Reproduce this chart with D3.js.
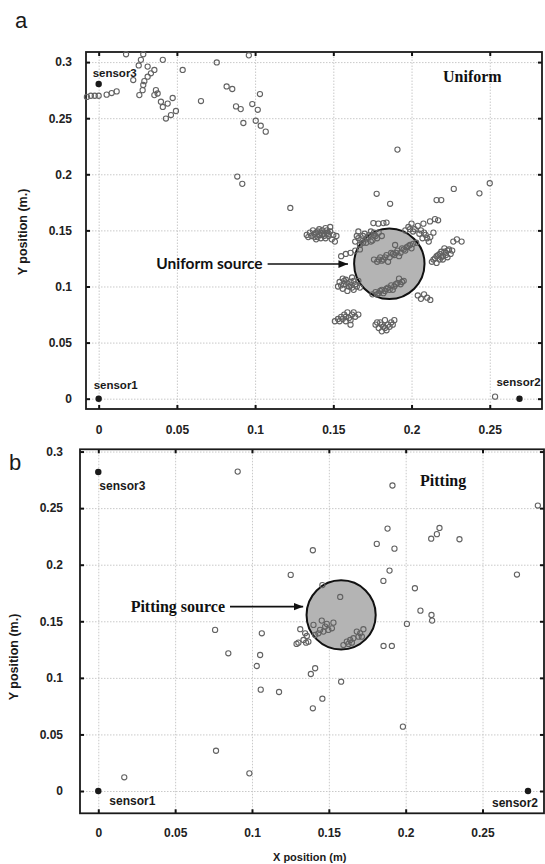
<!DOCTYPE html>
<html>
<head>
<meta charset="utf-8">
<script src="https://d3js.org/d3.v7.min.js"></script>
<style>
  body { margin: 0; background: #fff; }
  svg { display: block; }
</style>
</head>
<body>
<svg id="drawing_region"></svg>
<script>
// ---- data ----
const xTicks = [0, 0.05, 0.1, 0.15, 0.2, 0.25];
const xTickLabels = ['0', '0.05', '0.1', '0.15', '0.2', '0.25'];
const yTicks = [0, 0.05, 0.1, 0.15, 0.2, 0.25, 0.3];
const yTickLabels = ['0', '0.05', '0.1', '0.15', '0.2', '0.25', '0.3'];

const sensorNames = ['sensor1', 'sensor2', 'sensor3'];
const sensorPosA = [[0, 0], [0.269, 0], [0, 0.2805]];
const sensorPosB = [[0, 0], [0.2796, 0], [0, 0.282]];

// source centre (x, y) and radius (m)
const uniformSource = [0.1858, 0.1202, 0.0225];
const pittingSource = [0.158, 0.1556, 0.0225];

// arrow: x start, x end, y
const uniformArrow = [0.108, 0.1594, 0.120];
const pittingArrow = [0.0857, 0.1333, 0.163];

// located events, uniform corrosion
const uniformPoints = [
  [-0.0075, 0.269], [-0.005, 0.270], [-0.0025, 0.270], [0, 0.270],
  [0.0051, 0.271], [0.0083, 0.2724], [0.0115, 0.2739],
  [0.0175, 0.307], [0.0285, 0.307], [0.027, 0.302], [0.0256, 0.297], [0.041, 0.302],
  [0.0537, 0.293], [0.0755, 0.2997], [0.096, 0.306],
  [0.0313, 0.296], [0.0356, 0.293], [0.0334, 0.290], [0.0313, 0.287], [0.0221, 0.284],
  [0.0292, 0.283], [0.0285, 0.2796], [0.0281, 0.275], [0.026, 0.2706], [0.0366, 0.275],
  [0.0356, 0.2706], [0.0377, 0.272],
  [0.041, 0.260], [0.0441, 0.263], [0.0473, 0.268], [0.0398, 0.2647],
  [0.043, 0.2497], [0.0462, 0.2528], [0.0494, 0.2564], [0.0654, 0.2653],
  [0.0818, 0.2783], [0.0854, 0.276], [0.1031, 0.2715], [0.0982, 0.2626], [0.1017, 0.2575],
  [0.0878, 0.2605], [0.0908, 0.2581], [0.0925, 0.2457], [0.1004, 0.2477], [0.1036, 0.2433],
  [0.1068, 0.238], [0.0886, 0.198], [0.0918, 0.1915],
  [0.1225, 0.170], [0.191, 0.222], [0.1777, 0.1826], [0.1863, 0.1737], [0.216, 0.177],
  [0.219, 0.177], [0.227, 0.187], [0.2434, 0.183], [0.250, 0.192], [0.2534, 0.0018],
  // cluster left of source
  [0.133, 0.146], [0.135, 0.148], [0.136, 0.145], [0.138, 0.147], [0.138, 0.144],
  [0.140, 0.149], [0.141, 0.146], [0.142, 0.143], [0.143, 0.150], [0.144, 0.147],
  [0.145, 0.152], [0.146, 0.148], [0.147, 0.145], [0.148, 0.153], [0.149, 0.142],
  [0.151, 0.140], [0.152, 0.145], [0.139, 0.142], [0.145, 0.143],
  [0.134, 0.144], [0.137, 0.150], [0.139, 0.148], [0.141, 0.151], [0.142, 0.148],
  [0.144, 0.145], [0.146, 0.150], [0.147, 0.147], [0.148, 0.149], [0.150, 0.146],
  [0.140, 0.144], [0.143, 0.146],
  [0.155, 0.127], [0.158, 0.129], [0.161, 0.130], [0.164, 0.132], [0.167, 0.133],
  [0.153, 0.100], [0.154, 0.104], [0.156, 0.098], [0.157, 0.102], [0.158, 0.106],
  [0.160, 0.100], [0.161, 0.104], [0.162, 0.108], [0.163, 0.097], [0.164, 0.102],
  [0.166, 0.105], [0.167, 0.099], [0.159, 0.096],
  [0.155, 0.101], [0.157, 0.105], [0.159, 0.103], [0.161, 0.101], [0.163, 0.105],
  [0.165, 0.100], [0.156, 0.107], [0.162, 0.099],
  [0.151, 0.069], [0.153, 0.071], [0.155, 0.073], [0.157, 0.075], [0.159, 0.077],
  [0.160, 0.072], [0.162, 0.075], [0.164, 0.073], [0.166, 0.075], [0.158, 0.069], [0.161, 0.066],
  [0.154, 0.069], [0.156, 0.071], [0.158, 0.073], [0.161, 0.070], [0.163, 0.077],
  [0.177, 0.066], [0.179, 0.063], [0.180, 0.068], [0.182, 0.064], [0.183, 0.070],
  [0.184, 0.061], [0.185, 0.066], [0.187, 0.068], [0.189, 0.070], [0.181, 0.060],
  [0.178, 0.068], [0.181, 0.066], [0.183, 0.063], [0.186, 0.064], [0.188, 0.066],
  // on and around the source
  [0.164, 0.140], [0.165, 0.145], [0.167, 0.137], [0.168, 0.142], [0.170, 0.147],
  [0.171, 0.139], [0.172, 0.144], [0.174, 0.149], [0.175, 0.141], [0.176, 0.146],
  [0.178, 0.143], [0.179, 0.148], [0.181, 0.145], [0.166, 0.149],
  [0.166, 0.143], [0.169, 0.145], [0.171, 0.142], [0.173, 0.146], [0.174, 0.140],
  [0.177, 0.145], [0.169, 0.139], [0.176, 0.148],
  [0.1756, 0.1565], [0.1788, 0.156], [0.182, 0.1565], [0.184, 0.157],
  [0.176, 0.124], [0.178, 0.122], [0.180, 0.126], [0.182, 0.124], [0.184, 0.128],
  [0.186, 0.126], [0.187, 0.130], [0.189, 0.128], [0.191, 0.132], [0.193, 0.130],
  [0.194, 0.134], [0.196, 0.132], [0.198, 0.136], [0.200, 0.134], [0.201, 0.138],
  [0.185, 0.122], [0.192, 0.127], [0.1895, 0.137],
  [0.179, 0.124], [0.183, 0.126], [0.188, 0.129], [0.190, 0.130], [0.195, 0.133],
  [0.197, 0.135], [0.199, 0.137], [0.181, 0.123],
  [0.196, 0.150], [0.198, 0.153], [0.200, 0.156], [0.202, 0.151], [0.204, 0.154],
  [0.205, 0.147], [0.207, 0.143], [0.209, 0.146], [0.211, 0.140], [0.212, 0.144],
  [0.214, 0.148], [0.203, 0.139],
  [0.206, 0.150], [0.208, 0.148], [0.210, 0.143], [0.201, 0.149], [0.199, 0.151],
  [0.2076, 0.156], [0.2118, 0.158], [0.215, 0.160], [0.217, 0.159],
  [0.175, 0.093], [0.177, 0.095], [0.179, 0.094], [0.181, 0.097], [0.183, 0.096],
  [0.185, 0.099], [0.187, 0.101], [0.189, 0.100], [0.191, 0.103], [0.193, 0.102],
  [0.195, 0.105], [0.188, 0.097], [0.192, 0.107],
  [0.178, 0.093], [0.180, 0.096], [0.184, 0.098], [0.186, 0.097], [0.190, 0.102],
  [0.194, 0.104], [0.182, 0.094],
  // right of source
  [0.213, 0.122], [0.215, 0.125], [0.216, 0.121], [0.217, 0.128], [0.218, 0.124],
  [0.219, 0.131], [0.220, 0.127], [0.221, 0.134], [0.222, 0.130], [0.223, 0.126],
  [0.224, 0.133], [0.225, 0.129], [0.226, 0.132],
  [0.214, 0.124], [0.216, 0.127], [0.218, 0.129], [0.219, 0.126], [0.221, 0.131],
  [0.223, 0.132], [0.220, 0.124], [0.222, 0.128],
  [0.2267, 0.140], [0.229, 0.142], [0.232, 0.140],
  [0.204, 0.092], [0.206, 0.089], [0.208, 0.093], [0.210, 0.090], [0.212, 0.088]
];

// located events, pitting corrosion
const pittingPoints = [
  [0.0907, 0.2823], [0.1914, 0.270], [0.286, 0.2523], [0.1882, 0.2319], [0.222, 0.2325],
  [0.2203, 0.227], [0.2166, 0.223], [0.235, 0.2225], [0.1812, 0.2184], [0.1927, 0.2142],
  [0.1396, 0.2128], [0.1252, 0.191], [0.1895, 0.1948], [0.1855, 0.1857], [0.2724, 0.1913],
  [0.206, 0.1792], [0.1458, 0.182], [0.1574, 0.1715], [0.2096, 0.1594], [0.2168, 0.1556],
  [0.2172, 0.1506], [0.2008, 0.1477],
  [0.076, 0.1424], [0.1064, 0.1394], [0.0846, 0.1217], [0.1053, 0.1202], [0.1031, 0.1105],
  [0.1411, 0.1085], [0.1383, 0.1034], [0.158, 0.0966], [0.1856, 0.1282], [0.191, 0.1282],
  [0.1314, 0.143], [0.1346, 0.1394], [0.140, 0.1468], [0.1454, 0.1506], [0.1487, 0.1477],
  [0.153, 0.1488], [0.1302, 0.1311], [0.1335, 0.1335], [0.1367, 0.132], [0.1357, 0.137],
  [0.1411, 0.1379], [0.1432, 0.1394], [0.1465, 0.1409], [0.1497, 0.1424], [0.152, 0.1438],
  [0.1443, 0.1424], [0.1476, 0.1453], [0.129, 0.130], [0.1352, 0.1311],
  [0.1595, 0.129], [0.1617, 0.132], [0.1639, 0.1335], [0.166, 0.135], [0.1682, 0.1409],
  [0.1704, 0.1394], [0.1725, 0.143], [0.1693, 0.1364], [0.165, 0.1311], [0.1628, 0.130],
  [0.1715, 0.1364],
  [0.1057, 0.0896], [0.1176, 0.0875], [0.1458, 0.0816], [0.1396, 0.0731], [0.1982, 0.0569],
  [0.0766, 0.0356], [0.0983, 0.0156], [0.0169, 0.0121]
];

const W = 545, H = 864;
const svg = d3.select('#drawing_region').attr('width', W).attr('height', H);

svg.append('defs').append('marker')
    .attr('id', 'arrowhead')
    .attr('viewBox', '0 0 10 10')
    .attr('refX', 10).attr('refY', 5)
    .attr('markerWidth', 6).attr('markerHeight', 6)
    .attr('markerUnits', 'strokeWidth')
    .attr('orient', 'auto')
  .append('path')
    .attr('d', 'M0,1 L10,5 L0,9 z')
    .attr('fill', '#111');

class SensorPlot {

  constructor( config, data ) {
    this.config = config;
    this.data = data;
    this.init();
  }

  init() {
    let self = this;
    let c = self.config;

    self.chart = svg.append('g');

    self.xscale = d3.scaleLinear()
        .domain( c.xdomain )
        .range( [c.left, c.right] );

    self.yscale = d3.scaleLinear()
        .domain( c.ydomain )
        .range( [c.bottom, c.top] );
  }

  render() {
    let self = this;
    let c = self.config;
    let xs = self.xscale, ys = self.yscale;
    const innerW = c.right - c.left, innerH = c.bottom - c.top;

    // grid
    self.chart.append('g')
        .attr('transform', `translate(0, ${c.bottom})`)
        .call( d3.axisBottom(xs).tickValues(xTicks).tickSize(-innerH).tickFormat('') )
        .call( g => g.select('.domain').remove() )
        .selectAll('line')
        .attr('class', 'grid')
        .attr('stroke', '#c9c9c9').attr('stroke-dasharray', '1.5,1.5');

    self.chart.append('g')
        .attr('transform', `translate(${c.left}, 0)`)
        .call( d3.axisLeft(ys).tickValues(yTicks).tickSize(-innerW).tickFormat('') )
        .call( g => g.select('.domain').remove() )
        .selectAll('line')
        .attr('class', 'grid')
        .attr('stroke', '#c9c9c9').attr('stroke-dasharray', '1.5,1.5');

    // inward ticks + labels
    const fmtX = (d, i) => xTickLabels[i];
    const fmtY = (d, i) => yTickLabels[i];

    const xaxis = self.chart.append('g')
        .attr('transform', `translate(0, ${c.bottom})`)
        .call( d3.axisBottom(xs).tickValues(xTicks).tickSizeInner(-4).tickSizeOuter(0)
               .tickPadding(c.xpad).tickFormat(fmtX) );
    const yaxis = self.chart.append('g')
        .attr('transform', `translate(${c.left}, 0)`)
        .call( d3.axisLeft(ys).tickValues(yTicks).tickSizeInner(-4).tickSizeOuter(0)
               .tickPadding(c.ypad).tickFormat(fmtY) );
    self.chart.append('g')
        .attr('transform', `translate(0, ${c.top})`)
        .call( d3.axisTop(xs).tickValues(xTicks).tickSizeInner(-4).tickSizeOuter(0).tickFormat('') );
    self.chart.append('g')
        .attr('transform', `translate(${c.right}, 0)`)
        .call( d3.axisRight(ys).tickValues(yTicks).tickSizeInner(-4).tickSizeOuter(0).tickFormat('') );

    self.chart.selectAll('.domain').remove();
    self.chart.selectAll('.tick line:not(.grid)')
        .attr('stroke', '#111').attr('stroke-width', 2);

    [xaxis, yaxis].forEach( g => g.selectAll('text')
        .attr('font-family', "'Liberation Sans', Arial, sans-serif")
        .attr('font-weight', 'bold')
        .attr('font-size', c.tickFont)
        .attr('fill', '#222') );

    // frame
    self.chart.append('rect')
        .attr('x', c.left).attr('y', c.top)
        .attr('width', innerW).attr('height', innerH)
        .attr('fill', 'none').attr('stroke', '#1a1a1a').attr('stroke-width', 1.8);

    // source circle
    const src = c.source;
    self.chart.append('circle')
        .attr('cx', xs(src[0])).attr('cy', ys(src[1]))
        .attr('r', xs(src[0] + src[2]) - xs(src[0]))
        .attr('fill', '#b4b4b4')
        .attr('stroke', '#111').attr('stroke-width', 2);

    // events
    self.chart.selectAll('circle.ev')
        .data( self.data )
        .enter()
        .append('circle')
        .attr('class', 'ev')
        .attr('cx', d => xs(d[0]))
        .attr('cy', d => ys(d[1]))
        .attr('r', 2.6)
        .attr('fill', 'none')
        .attr('stroke', '#626262')
        .attr('stroke-width', 1.1);

    // sensors
    self.chart.selectAll('circle.sensor')
        .data( c.sensors )
        .enter()
        .append('circle')
        .attr('class', 'sensor')
        .attr('cx', d => xs(d[0]))
        .attr('cy', d => ys(d[1]))
        .attr('r', 3.2)
        .attr('fill', '#1a1a1a');

    self.chart.selectAll('text.sensor')
        .data( c.sensors )
        .enter()
        .append('text')
        .attr('class', 'sensor')
        .attr('x', (d, i) => xs(d[0]) + c.sensorOffsets[i][0])
        .attr('y', (d, i) => ys(d[1]) + c.sensorOffsets[i][1])
        .attr('font-family', "'Liberation Sans', Arial, sans-serif")
        .attr('font-weight', 'bold')
        .attr('font-size', c.sensorFont)
        .attr('fill', '#1a1a1a')
        .text( (d, i) => sensorNames[i] );

    // arrow + source label
    const ar = c.arrow;
    self.chart.append('line')
        .attr('x1', xs(ar[0])).attr('x2', xs(ar[1]))
        .attr('y1', ys(ar[2])).attr('y2', ys(ar[2]))
        .attr('stroke', '#111').attr('stroke-width', 1.6)
        .attr('marker-end', 'url(#arrowhead)');

    self.chart.append('text')
        .attr('x', xs(ar[0]) - 5).attr('y', ys(ar[2]) + 5)
        .attr('text-anchor', 'end')
        .attr('font-family', c.sourceFontFamily)
        .attr('font-weight', 'bold')
        .attr('font-size', c.sourceFont)
        .attr('fill', '#111')
        .text( c.sourceLabel );

    // title in corner
    self.chart.append('text')
        .attr('x', c.titlePos[0]).attr('y', c.titlePos[1])
        .attr('font-family', "'Liberation Serif', 'Times New Roman', serif")
        .attr('font-weight', 'bold')
        .attr('font-size', 16)
        .attr('fill', '#111')
        .text( c.title );

    // y axis label
    self.chart.append('text')
        .attr('transform', `translate(${c.ylabelPos[0]}, ${c.ylabelPos[1]}) rotate(-90)`)
        .attr('text-anchor', 'middle')
        .attr('font-family', "'Liberation Sans', Arial, sans-serif")
        .attr('font-weight', 'bold')
        .attr('font-size', 12.5)
        .attr('fill', '#1a1a1a')
        .text('Y position (m.)');

    // panel letter
    self.chart.append('text')
        .attr('x', c.letterPos[0]).attr('y', c.letterPos[1])
        .attr('font-family', "'Liberation Sans', Arial, sans-serif")
        .attr('font-size', 22)
        .attr('fill', '#1a1a1a')
        .text( c.letter );
  }
}

const panelA = new SensorPlot({
  left: 86, right: 542, top: 52, bottom: 409,
  xdomain: [-0.0081, 0.2834], ydomain: [-0.0092, 0.309],
  xpad: 16, ypad: 14, tickFont: 12,
  sensors: sensorPosA, sensorOffsets: [[-5, -10], [-23, -13], [-6, -7]], sensorFont: 11.5,
  source: uniformSource, arrow: uniformArrow,
  sourceLabel: 'Uniform source', sourceFont: 15.5, sourceFontFamily: "Lato, 'Liberation Sans', sans-serif",
  title: 'Uniform', titlePos: [443, 82],
  ylabelPos: [27, 232], letter: 'a', letterPos: [15, 28]
}, uniformPoints);
panelA.render();

const panelB = new SensorPlot({
  left: 80, right: 544, top: 449.3, bottom: 813.3,
  xdomain: [-0.0119, 0.290], ydomain: [-0.0197, 0.302],
  xpad: 15, ypad: 17, tickFont: 12,
  sensors: sensorPosB, sensorOffsets: [[11, 14], [-36, 16], [1, 18]], sensorFont: 12,
  source: pittingSource, arrow: pittingArrow,
  sourceLabel: 'Pitting source', sourceFont: 16, sourceFontFamily: "'Liberation Serif', 'Times New Roman', serif",
  title: 'Pitting', titlePos: [420, 486],
  ylabelPos: [18, 657], letter: 'b', letterPos: [9, 470]
}, pittingPoints);
panelB.render();

svg.append('text')
    .attr('x', 273).attr('y', 861)
    .attr('font-family', "'Liberation Sans', Arial, sans-serif")
    .attr('font-weight', 'bold')
    .attr('font-size', 11)
    .attr('fill', '#1a1a1a')
    .text('X position (m)');
</script>
</body>
</html>
